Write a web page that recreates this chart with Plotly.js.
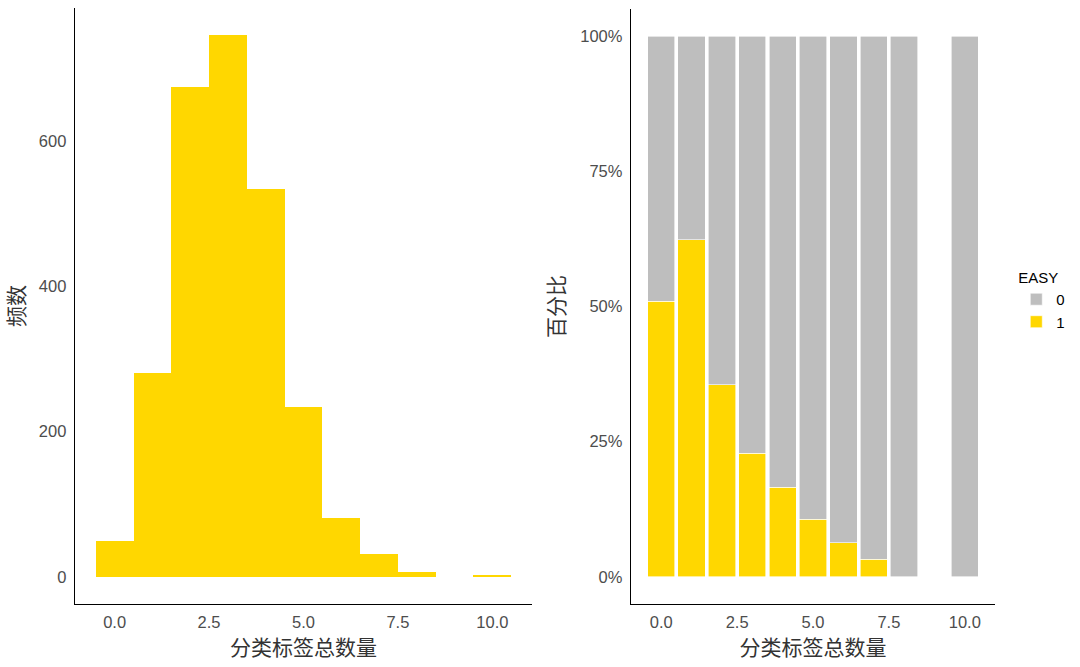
<!DOCTYPE html>
<html>
<head>
<meta charset="utf-8">
<script src="https://cdn.plot.ly/plotly-3.0.1.min.js"></script>
<style>html,body{margin:0;padding:0;background:#fff;}#chart{width:1080px;height:667px;}</style>
</head>
<body>
<div id="chart"></div>
<script>
// Left: histogram of total tag count
const histX = [0, 1, 2, 3, 4, 5, 6, 7, 8, 9, 10];
const histCounts = [49, 281, 674, 746, 534, 234, 81, 31, 7, 0, 2];

// Right: share of EASY by total tag count (percent)
const pctX = [0, 1, 2, 3, 4, 5, 6, 7, 8, 10];
const pctEasy1 = [51.0, 62.3, 35.5, 22.9, 16.6, 10.7, 6.3, 3.3, 0, 0];
const pctEasy0 = pctEasy1.map(v => 100 - v);

const xTicks = [0, 2.5, 5, 7.5, 10];
const xTickText = ['0.0', '2.5', '5.0', '7.5', '10.0'];
const yTicksLeft = [0, 200, 400, 600];
const yTicksRight = [0, 25, 50, 75, 100];
const yTickTextRight = ['0%', '25%', '50%', '75%', '100%'];

const gold = '#FFD700';
const grey = '#BEBEBE';
const tickFont = {family: 'Liberation Sans, Arial, sans-serif', size: 16.5, color: '#4D4D4D'};
const titleFont = {family: 'Noto Sans CJK SC, sans-serif', size: 21, color: '#333333'};

const traces = [
  {type: 'bar', x: histX, y: histCounts, width: 1, marker: {color: gold, line: {width: 0}},
   xaxis: 'x', yaxis: 'y', showlegend: false},
  {type: 'bar', name: '1', x: pctX, y: pctEasy1, width: 0.9,
   marker: {color: gold, line: {color: '#ffffff', width: 0.6}}, xaxis: 'x2', yaxis: 'y2'},
  {type: 'bar', name: '0', x: pctX, y: pctEasy0, width: 0.9,
   marker: {color: grey, line: {color: '#ffffff', width: 0.6}}, xaxis: 'x2', yaxis: 'y2'}
];

const axisCommon = {showgrid: false, zeroline: false, showline: true, linecolor: '#000000', linewidth: 1.3,
  ticks: '', tickfont: tickFont};

const layout = {
  width: 1080, height: 667,
  margin: {l: 0, r: 0, t: 0, b: 0},
  paper_bgcolor: '#ffffff', plot_bgcolor: '#ffffff',
  barmode: 'stack', bargap: 0,
  xaxis: Object.assign({}, axisCommon, {domain: [0.0694, 0.4926], range: [-1.05, 11.05],
    tickvals: xTicks, ticktext: xTickText, anchor: 'y', ticklabelstandoff: 3,
    title: {text: '分类标签总数量', font: titleFont, standoff: 6}}),
  yaxis: Object.assign({}, axisCommon, {domain: [0.0945, 0.988], range: [-37.3, 783.3],
    tickvals: yTicksLeft, anchor: 'x', ticklabelstandoff: 4,
    title: {text: '频数', font: titleFont, standoff: 10}}),
  xaxis2: Object.assign({}, axisCommon, {domain: [0.5843, 0.9213], range: [-0.995, 10.995],
    tickvals: xTicks, ticktext: xTickText, anchor: 'y2', ticklabelstandoff: 3,
    title: {text: '分类标签总数量', font: titleFont, standoff: 6}}),
  yaxis2: Object.assign({}, axisCommon, {domain: [0.0945, 0.9865], range: [-5, 105],
    tickvals: yTicksRight, ticktext: yTickTextRight, anchor: 'x2', ticklabelstandoff: 4,
    title: {text: '百分比', font: titleFont, standoff: 10}}),
  legend: {x: 0.941, y: 0.605, xanchor: 'left', yanchor: 'top', traceorder: 'reversed',
    title: {text: 'EASY', font: {family: 'Liberation Sans, Arial, sans-serif', size: 15, color: '#000'}},
    font: {family: 'Liberation Sans, Arial, sans-serif', size: 15, color: '#000'},
    itemwidth: 30, tracegroupgap: 0}
};

Plotly.newPlot('chart', traces, layout, {displayModeBar: false, staticPlot: true});
</script>
</body>
</html>
